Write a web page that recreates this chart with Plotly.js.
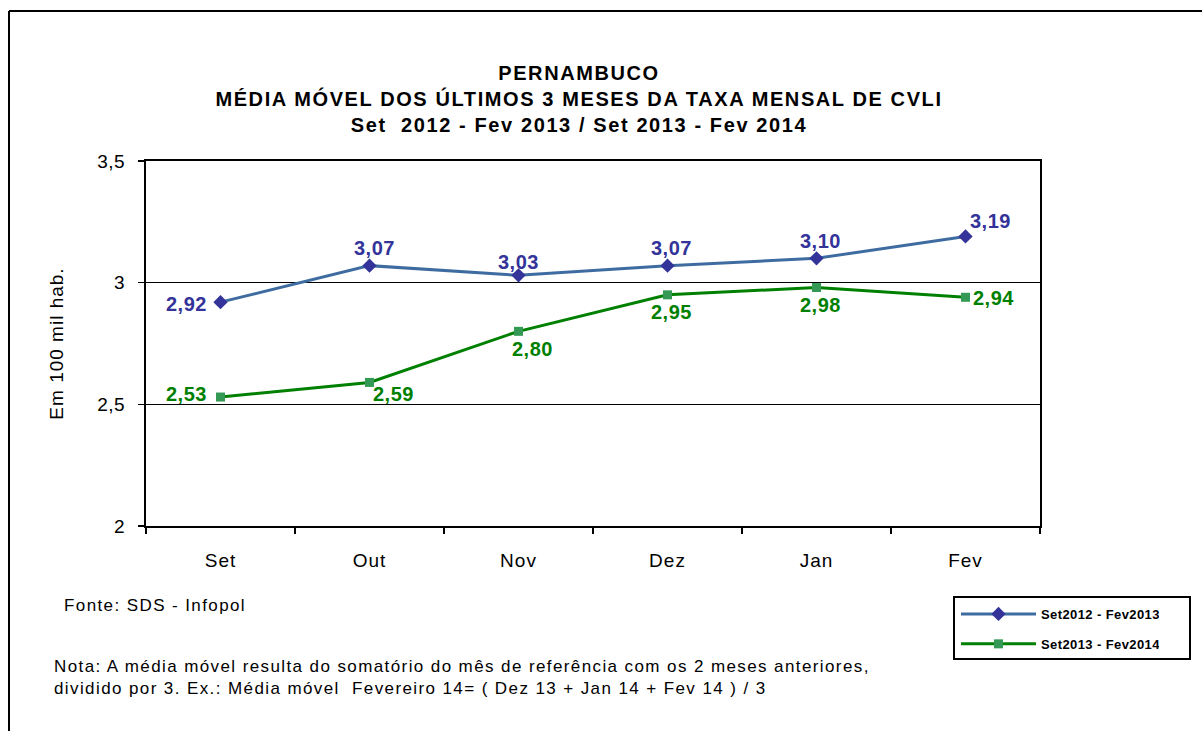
<!DOCTYPE html>
<html>
<head>
<meta charset="utf-8">
<script src="https://cdn.plot.ly/plotly-3.0.1.min.js"></script>
<style>
  html, body { margin: 0; padding: 0; background: #fff; }
  #chart { width: 1202px; height: 731px; }
  #chart .gtitle { letter-spacing: 1.6px; }
  #chart .xtick text { letter-spacing: 1px; }
  #chart .ytick text { letter-spacing: 0.5px; }
  #chart .ytitle { letter-spacing: 1px; }
  #chart .legendtext { letter-spacing: 0.4px; }
  #chart .annotation text { letter-spacing: 0.5px; }
  #chart .annotation[data-index="12"] text,
  #chart .annotation[data-index="13"] text { letter-spacing: 1.4px; }
</style>
</head>
<body>
<div id="chart"></div>
<script>
const months = ["Set", "Out", "Nov", "Dez", "Jan", "Fev"];
const serie2012 = [2.92, 3.07, 3.03, 3.07, 3.10, 3.19];
const serie2013 = [2.53, 2.59, 2.80, 2.95, 2.98, 2.94];
const name2012 = "Set2012 - Fev2013";
const name2013 = "Set2013 - Fev2014";
const yTicks = [2, 2.5, 3, 3.5];

const fmt = v => v.toFixed(2).replace('.', ',');

// label offsets (pixels) relative to each point
const off2012 = [[-34, -2], [5, 18], [0, 13], [4, 18], [4, 17], [25, 15]];
const off2013 = [[-34, 3], [24, -12], [14, -18], [4, -17], [4, -17], [28, -1]];

const FONT = "Liberation Sans, Arial, sans-serif";
const blueLine = "#3F6CA0";
const blueMark = "#333399";
const greenLine = "#008000";
const greenMark = "#339955";

const traces = [
  {
    x: months, y: serie2012, name: name2012, type: "scatter", mode: "lines+markers",
    line: {color: blueLine, width: 3},
    marker: {symbol: "diamond", size: 11, color: blueMark, line: {color: blueMark, width: 0}},
    legendgroup: "a"
  },
  {
    x: months, y: serie2013, name: name2013, type: "scatter", mode: "lines+markers",
    line: {color: greenLine, width: 3},
    marker: {symbol: "square", size: 9, color: greenMark, line: {color: greenMark, width: 0}},
    legendgroup: "b"
  }
];

const annotations = [];
serie2012.forEach((v, i) => annotations.push({
  x: months[i], y: v, xref: "x", yref: "y", text: fmt(v), showarrow: false,
  xshift: off2012[i][0], yshift: off2012[i][1],
  font: {family: FONT, size: 20, color: blueMark, weight: "bold"}
}));
serie2013.forEach((v, i) => annotations.push({
  x: months[i], y: v, xref: "x", yref: "y", text: fmt(v), showarrow: false,
  xshift: off2013[i][0], yshift: off2013[i][1],
  font: {family: FONT, size: 20, color: greenLine, weight: "bold"}
}));

const px = p => (p - 146) / 894;
const py = p => (526 - p) / 365;

// footer texts (indexes 12, 13)
annotations.push({
  xref: "paper", yref: "paper", x: px(62), y: py(605),
  xanchor: "left", yanchor: "middle", showarrow: false, align: "left",
  text: "Fonte: SDS - Infopol", font: {family: FONT, size: 17, color: "#000"}
});
annotations.push({
  xref: "paper", yref: "paper", x: px(52), y: py(677),
  xanchor: "left", yanchor: "middle", showarrow: false, align: "left",
  text: "Nota: A média móvel resulta do somatório do mês de referência com os 2 meses anteriores,<br>dividido por 3. Ex.: Média móvel  Fevereiro 14= ( Dez 13 + Jan 14 + Fev 14 ) / 3",
  font: {family: FONT, size: 17, color: "#000"}
});

const layout = {
  width: 1202, height: 731,
  margin: {l: 146, r: 162, t: 161, b: 205},
  paper_bgcolor: "#fff", plot_bgcolor: "#fff",
  separators: ",.",
  showlegend: true,
  title: {
    text: "<b>PERNAMBUCO<br>MÉDIA MÓVEL DOS ÚLTIMOS 3 MESES DA TAXA MENSAL DE CVLI<br>Set  2012 - Fev 2013 / Set 2013 - Fev 2014</b>",
    x: 579 / 1202, xanchor: "center", xref: "container",
    y: 1 - 80 / 731, yanchor: "top", yref: "container",
    font: {family: FONT, size: 20, color: "#000"}
  },
  xaxis: {
    type: "category", range: [-0.5, 5.5], fixedrange: true,
    showline: true, linecolor: "#000", linewidth: 2, mirror: true,
    ticks: "outside", tickson: "boundaries", ticklen: 6, tickcolor: "#000", tickwidth: 1.5,
    showgrid: false, zeroline: false,
    tickfont: {family: FONT, size: 19, color: "#000"},
    ticklabelstandoff: 16
  },
  yaxis: {
    range: [2, 3.5], tickvals: yTicks, fixedrange: true,
    showline: true, linecolor: "#000", linewidth: 2, mirror: true,
    ticks: "outside", ticklen: 6, tickcolor: "#000", tickwidth: 1.5,
    showgrid: true, gridcolor: "#000", gridwidth: 1.5, zeroline: false,
    tickfont: {family: FONT, size: 19, color: "#000"},
    ticklabelstandoff: 9,
    title: {text: "Em 100 mil hab.", font: {family: FONT, size: 19, color: "#000"}, standoff: 30}
  },
  legend: {
    x: px(956), y: py(599), xanchor: "left", yanchor: "top",
    bgcolor: "rgba(0,0,0,0)", borderwidth: 0,
    font: {family: FONT, size: 13, color: "#000", weight: "bold"},
    traceorder: "grouped", tracegroupgap: 10,
    itemwidth: 75
  },
  annotations: annotations,
  shapes: [
    {type: "line", xref: "paper", yref: "paper", x0: px(9), x1: px(9), y0: py(11), y1: py(735), line: {color: "#000", width: 2}},
    {type: "line", xref: "paper", yref: "paper", x0: px(9), x1: px(1210), y0: py(11), y1: py(11), line: {color: "#000", width: 2}},
    {type: "rect", xref: "paper", yref: "paper", x0: px(954), x1: px(1190), y0: py(597), y1: py(659), line: {color: "#000", width: 2}, fillcolor: "rgba(0,0,0,0)"}
  ]
};

Plotly.newPlot("chart", traces, layout, {displayModeBar: false, staticPlot: true});
</script>
</body>
</html>
